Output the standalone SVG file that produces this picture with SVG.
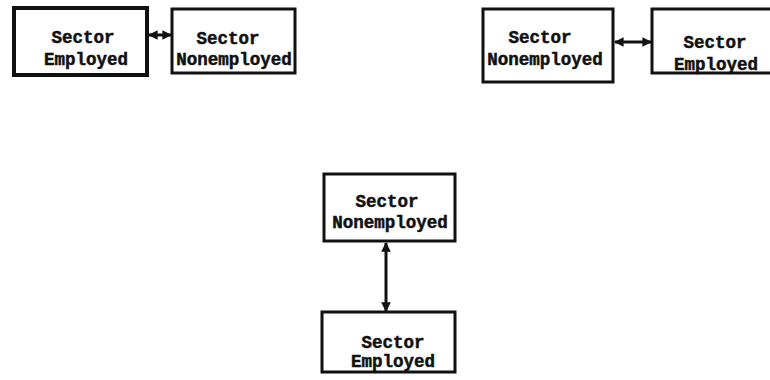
<svg xmlns="http://www.w3.org/2000/svg" width="770" height="380" viewBox="0 0 770 380">
  <style>
    .box { fill: #ffffff; stroke: #111111; stroke-width: 3; }
    .lbl { font-family: "Liberation Mono", "Courier New", monospace; font-weight: bold; font-size: 17.5px; fill: #111111; stroke: #111111; stroke-width: 0.5; text-anchor: middle; }
    .link { stroke: #111111; stroke-width: 3; fill: none; marker-start: url(#head); marker-end: url(#head); }
  </style>
  <defs>
    <marker id="head" viewBox="0 0 10 10" refX="9" refY="5" markerWidth="3.2" markerHeight="3.2" orient="auto-start-reverse">
      <path d="M0,0 L10,5 L0,10 Z" fill="#111111"/>
    </marker>
  </defs>
  <rect width="770" height="380" fill="#ffffff"/>

  <g id="connectors">
    <line class="link" x1="149" y1="35" x2="171" y2="35"/>
    <line class="link" x1="615" y1="42" x2="651" y2="42"/>
    <line class="link" x1="386" y1="243" x2="386" y2="311"/>
  </g>

  <g id="left-employed">
    <rect class="box" x="14" y="8" width="133" height="67" style="stroke-width:4"/>
    <text class="lbl" x="83" y="43">Sector</text>
    <text class="lbl" x="86" y="65">Employed</text>
  </g>
  <g id="left-nonemployed">
    <rect class="box" x="172" y="9" width="123" height="64"/>
    <text class="lbl" x="228" y="44">Sector</text>
    <text class="lbl" x="234" y="65">Nonemployed</text>
  </g>

  <g id="right-nonemployed">
    <rect class="box" x="483" y="9" width="130" height="73"/>
    <text class="lbl" x="540" y="43">Sector</text>
    <text class="lbl" x="545" y="65">Nonemployed</text>
  </g>
  <g id="right-employed">
    <rect class="box" x="652" y="9" width="130" height="64"/>
    <text class="lbl" x="715" y="48">Sector</text>
    <text class="lbl" x="716" y="70">Employed</text>
  </g>

  <g id="center-nonemployed">
    <rect class="box" x="324" y="174" width="131" height="67"/>
    <text class="lbl" x="387" y="207">Sector</text>
    <text class="lbl" x="390" y="228">Nonemployed</text>
  </g>
  <g id="center-employed">
    <rect class="box" x="322" y="312" width="133" height="60"/>
    <text class="lbl" x="393" y="348">Sector</text>
    <text class="lbl" x="393" y="367">Employed</text>
  </g>
</svg>
